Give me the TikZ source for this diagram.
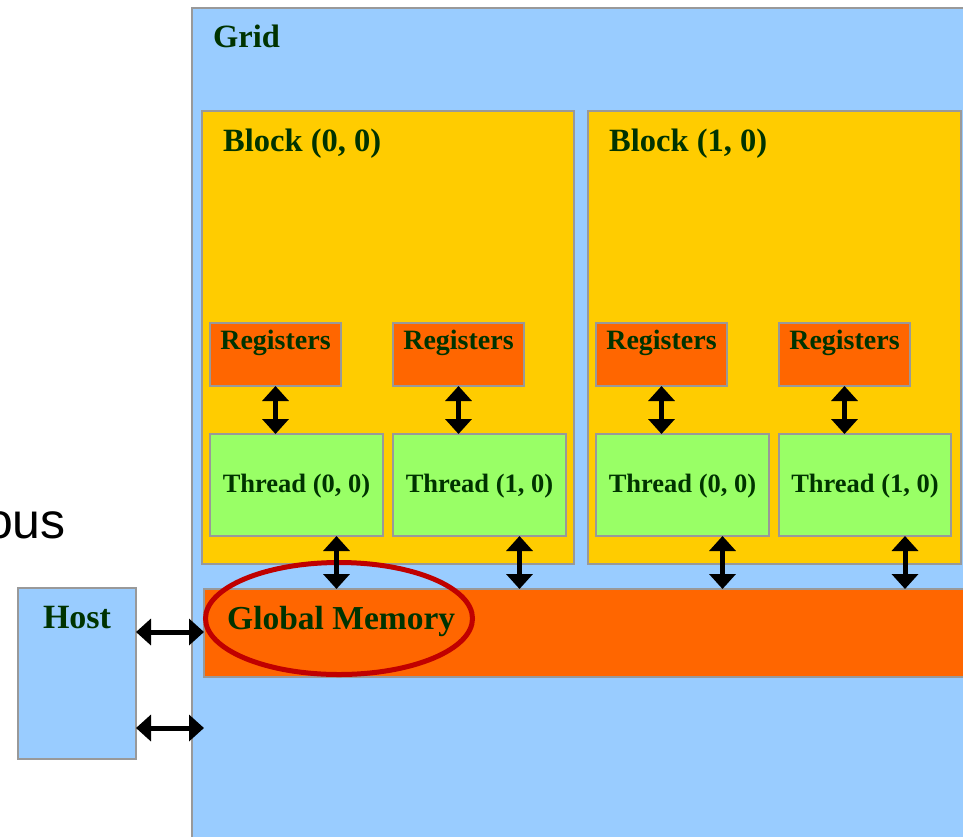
\documentclass[tikz,border=0pt]{standalone}
\usepackage{fontspec}
\setmainfont{Liberation Serif}
\newfontfamily\arialfont{Liberation Sans}
\usetikzlibrary{arrows.meta}
\definecolor{gridblue}{HTML}{99CCFF}
\definecolor{blockyellow}{HTML}{FFCC00}
\definecolor{memorange}{HTML}{FF6600}
\definecolor{threadgreen}{HTML}{99FF66}
\definecolor{labelgreen}{HTML}{003300}
\definecolor{edgegrey}{HTML}{999999}
\definecolor{ringred}{HTML}{C00000}
\tikzset{
  box/.style={draw=edgegrey, line width=1.5pt, inner sep=0pt, outer sep=0pt, rectangle},
  lbl/.style={text=labelgreen, inner sep=0pt, font=\bfseries\fontsize{#1}{#1}\selectfont},
  lbl/.default=30,
  dbl/.style={line width=5pt, black,
    {Triangle[width=26pt,length=15pt]}-{Triangle[width=26pt,length=15pt]}},
}
\begin{document}
\begin{tikzpicture}[x=1pt,y=-1pt]
\useasboundingbox (0,0) rectangle (963,836);
% partial word on the far left
\node[anchor=base east, inner sep=0pt, font=\arialfont\fontsize{50}{50}\selectfont] (ous) at (66,538) {ous};
% grid
\node[box, fill=gridblue, minimum width=800pt, minimum height=850pt, anchor=north west] (grid) at (192,8) {};
\node[lbl=32.5, anchor=base west] (gridtxt) at (213,47) {Grid};
% blocks
\node[box, fill=blockyellow, minimum width=372pt, minimum height=453pt, anchor=north west] (b0) at (202,111) {};
\node[box, fill=blockyellow, minimum width=373pt, minimum height=453pt, anchor=north west] (b1) at (588,111) {};
\node[lbl=32.5, anchor=base west] (b0txt) at (223,151) {Block (0, 0)};
\node[lbl=32.5, anchor=base west] (b1txt) at (609,151) {Block (1, 0)};
% registers
\foreach \n/\x in {r1/210, r2/393, r3/596, r4/779}{
  \node[box, fill=memorange, minimum width=131pt, minimum height=63pt, anchor=north west] (\n) at (\x,323) {};
  \node[lbl=28, anchor=base] (\n txt) at ([yshift=-26pt]\n.north) {Registers};
}
% threads
\foreach \n/\x/\w/\t in {t1/210/173/{Thread (0, 0)}, t2/393/173/{Thread (1, 0)}, t3/596/173/{Thread (0, 0)}, t4/779/172/{Thread (1, 0)}}{
  \node[box, fill=threadgreen, minimum width=\w pt, minimum height=102pt, anchor=north west] (\n) at (\x,434) {};
  \node[lbl=26.5, anchor=base] (\n txt) at ([yshift=-7pt]\n.center) {\t};
}
% global memory
\node[box, fill=memorange, minimum width=770pt, minimum height=88pt, anchor=north west] (gm) at (204,589) {};
\node[lbl=33.5, anchor=base west] (gmtxt) at (227,629) {Global Memory};
\draw[ringred, line width=5pt] (339,618.5) ellipse [x radius=133.5, y radius=56];
% host
\node[box, fill=gridblue, minimum width=118pt, minimum height=171pt, anchor=north west] (host) at (18,588) {};
\node[lbl=34, anchor=base] (hosttxt) at ([yshift=-40pt]host.north) {Host};
% register <-> thread
\foreach \r/\t in {r1/t1, r2/t2, r3/t3, r4/t4}
  \draw[dbl] (\r.south) -- (\r.south |- \t.north);
% thread <-> global memory
\foreach \t in {t1, t2, t3, t4}
  \draw[dbl] ([xshift=40pt]\t.south) -- ([xshift=40pt]\t.south |- gm.north);
% host <-> device
\draw[dbl] ([yshift=41.5pt]host.east) -- ([yshift=41.5pt]host.east -| gm.west);
\draw[dbl] ([yshift=-54.5pt]host.east) -- ([yshift=-54.5pt]host.east -| gm.west);
\end{tikzpicture}
\end{document}
